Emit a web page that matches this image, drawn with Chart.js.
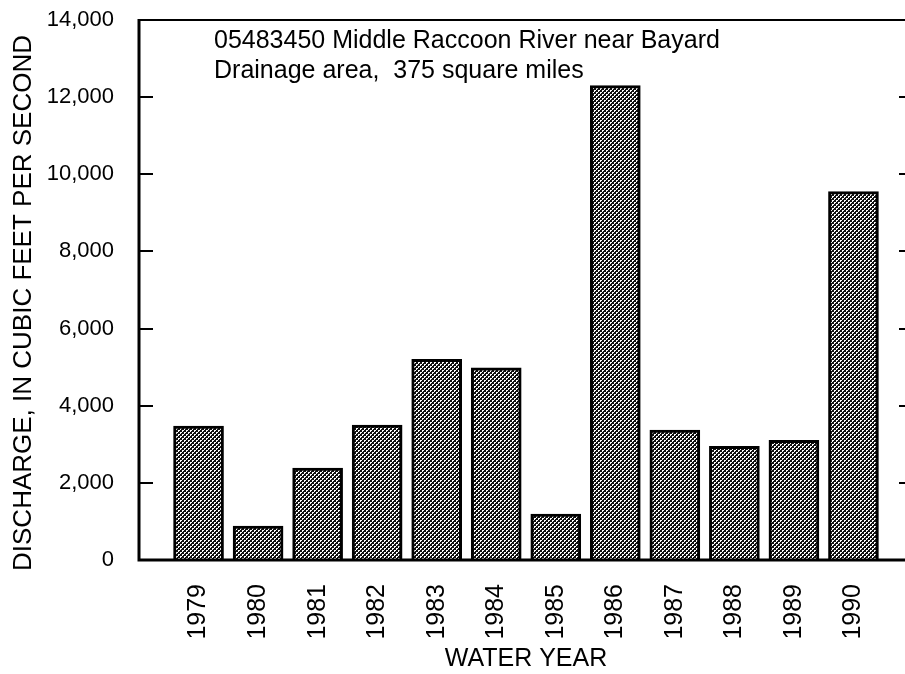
<!DOCTYPE html>
<html>
<head>
    <title>Middle Raccoon River near Bayard</title>
    <style>
        body { margin: 0; overflow: hidden; background: #fff; }
    </style>
</head>
<body>
    <canvas id="grafico" width="920" height="674"></canvas>

    <script src="https://cdn.jsdelivr.net/npm/chart.js@4.4.0/dist/chart.umd.min.js"></script>
    <script>
        // datos
        const years = [1979, 1980, 1981, 1982, 1983, 1984, 1985, 1986, 1987, 1988, 1989, 1990];
        const discharge = [3470, 880, 2380, 3500, 5200, 4980, 1190, 12300, 3370, 2950, 3100, 9550];
        const yTicks = [0, 2000, 4000, 6000, 8000, 10000, 12000, 14000];
        const notes = ['05483450 Middle Raccoon River near Bayard', 'Drainage area,  375 square miles'];
        const yTitle = 'DISCHARGE, IN CUBIC FEET PER SECOND';

        const FONT = "'Liberation Sans', Arial, Helvetica, sans-serif";

        // trama de puntos para las barras
        function makePattern() {
            const c = document.createElement('canvas');
            c.width = 4; c.height = 4;
            const g = c.getContext('2d');
            g.fillStyle = '#111';
            g.fillRect(0, 0, 4, 4);
            g.fillStyle = '#fff';
            g.fillRect(0, 0, 2, 1);
            g.fillRect(0, 1, 1, 1);
            g.fillRect(2, 2, 2, 1);
            g.fillRect(2, 3, 1, 1);
            return document.getElementById('grafico').getContext('2d').createPattern(c, 'repeat');
        }

        // marco, marcas hacia dentro, titulo del eje y texto de la estacion
        const framePlugin = {
            id: 'frame',
            afterDatasetsDraw(chart) {
                const ctx = chart.ctx;
                const a = chart.chartArea;
                const y = chart.scales.y;
                ctx.save();
                ctx.strokeStyle = '#000';
                ctx.lineWidth = 2;
                ctx.beginPath();
                ctx.moveTo(a.left, a.top); ctx.lineTo(a.right, a.top);
                ctx.lineTo(a.right, a.bottom);
                ctx.stroke();
                ctx.lineWidth = 3;
                ctx.beginPath();
                ctx.moveTo(a.left, a.top - 1); ctx.lineTo(a.left, a.bottom);
                ctx.lineTo(a.right, a.bottom);
                ctx.stroke();
                ctx.lineWidth = 2;
                yTicks.forEach(v => {
                    const py = Math.round(y.getPixelForValue(v));
                    if (v === 0) return;
                    ctx.beginPath();
                    ctx.moveTo(a.left, py); ctx.lineTo(a.left + 14, py);
                    ctx.moveTo(a.right, py); ctx.lineTo(a.right - 14, py);
                    ctx.stroke();
                });
                ctx.fillStyle = '#000';
                ctx.font = '25px ' + FONT;
                ctx.textBaseline = 'alphabetic';
                ctx.textAlign = 'left';
                notes.forEach((t, i) => ctx.fillText(t, 214, 48 + i * 30));

                ctx.translate(24, 303);
                ctx.rotate(-Math.PI / 2);
                ctx.font = '26px ' + FONT;
                ctx.textAlign = 'center';
                ctx.textBaseline = 'middle';
                ctx.fillText(yTitle, 0, 0);
                ctx.restore();
            }
        };

        const ctx = document.getElementById('grafico').getContext('2d');
        new Chart(ctx, {
            type: 'bar',
            data: {
                datasets: [{
                    label: 'Discharge',
                    data: years.map((yr, i) => ({ x: yr, y: discharge[i] })),
                    backgroundColor: makePattern(),
                    borderColor: '#000',
                    borderWidth: 3,
                    barThickness: 50
                }]
            },
            options: {
                responsive: false,
                animation: false,
                layout: { padding: { top: 20, right: 7, left: 0, bottom: 0 } },
                plugins: {
                    legend: { display: false },
                    tooltip: { enabled: false }
                },
                scales: {
                    x: {
                        type: 'linear',
                        offset: false,
                        min: 1978,
                        max: 1991,
                        afterBuildTicks: s => { s.ticks = years.map(v => ({ value: v })); },
                        afterFit: s => { s.height = 114; s.paddingLeft = 0; s.paddingRight = 0; },
                        grid: { display: false },
                        border: { display: false },
                        ticks: {
                            autoSkip: false,
                            minRotation: 90,
                            maxRotation: 90,
                            padding: 16,
                            color: '#000',
                            font: { family: FONT, size: 25 },
                            callback: v => String(v)
                        },
                        title: {
                            display: true,
                            text: 'WATER YEAR',
                            color: '#000',
                            font: { family: FONT, size: 25 },
                            padding: { top: 0, bottom: 0 }
                        }
                    },
                    y: {
                        min: 0,
                        max: 14000,
                        afterBuildTicks: s => { s.ticks = yTicks.map(v => ({ value: v })); },
                        afterFit: s => { s.width = 139; s.paddingTop = 0; s.paddingBottom = 0; },
                        grid: { display: false },
                        border: { display: false },
                        ticks: {
                            padding: 17,
                            color: '#000',
                            font: { family: FONT, size: 22 }
                        }
                    }
                }
            },
            plugins: [framePlugin]
        });
    </script>
</body>
</html>
